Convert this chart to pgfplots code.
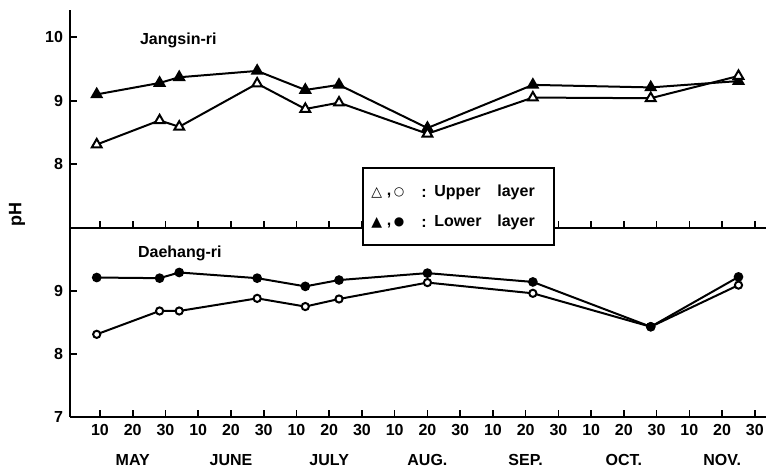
\documentclass[border=0pt]{standalone}
\usepackage{pgfplots}
\pgfplotsset{compat=1.18}
\usepackage{pgfplotstable}
\usepackage{fontspec}
\setmainfont{Liberation Sans}
\newfontfamily\symfont{DejaVu Sans}

\pgfplotstableread{
x up lo
0.90 8.31 9.10
2.82 8.69 9.28
3.42 8.59 9.37
5.80 9.27 9.47
7.27 8.87 9.17
8.30 8.97 9.25
11.00 8.48 8.57
14.22 9.05 9.25
17.82 9.04 9.21
20.50 9.39 9.31
}\jangsin

\pgfplotstableread{
x up lo
0.90 8.31 9.21
2.82 8.68 9.20
3.42 8.68 9.29
5.80 8.88 9.20
7.27 8.75 9.07
8.30 8.87 9.17
11.00 9.13 9.28
14.22 8.96 9.14
17.82 8.43 8.43
20.50 9.09 9.22
}\daehang

\pgfplotsset{
  myax/.style={
    scale only axis, width=348pt,
    xmin=0.084, xmax=21.34,
    axis lines=left,
    axis line style={-, line width=1pt, black},
    tick align=inside,
    major tick length=3.5pt,
    tick style={line width=0.8pt, black},
    /pgf/number format/assume math mode=true,
    tick label style={font=\bfseries\fontsize{8}{9}\selectfont},
    xtick={1,...,21},
    clip=false,
  },
  upl/.style={black, line width=1pt, mark options={solid, fill=white}},
  lol/.style={black, line width=1pt, mark options={solid, fill=black}},
}

\begin{document}
\begin{tikzpicture}
\useasboundingbox (0pt,0pt) rectangle (383pt,237pt);

% bottom panel: Daehang-ri
\begin{axis}[myax,
  at={(35pt,28.5pt)}, anchor=south west,
  height=94.65pt,
  ymin=7, ymax=10, ytick={7,8,9},
  xticklabel style={align=center},
  xticklabels={10,{20\\[6pt]MAY},30,10,{20\\[6pt]JUNE},30,10,{20\\[6pt]JULY},30,10,{20\\[6pt]AUG.},30,10,{20\\[6pt]SEP.},30,10,{20\\[6pt]OCT.},30,10,{20\\[6pt]NOV.},30},
]
\addplot[upl, mark=*, mark size=1.8pt] table[x=x, y=up]{\daehang};
\addplot[lol, mark=*, mark size=1.9pt] table[x=x, y=lo]{\daehang};
\end{axis}

% top panel: Jangsin-ri
\begin{axis}[myax,
  at={(35pt,123.15pt)}, anchor=south west,
  height=108.85pt,
  ymin=7, ymax=10.43, ytick={8,9,10},
  xticklabels={},
]
\addplot[lol, mark=triangle*, mark size=2.8pt] table[x=x, y=lo]{\jangsin};
\addplot[upl, mark=triangle*, mark size=2.8pt] table[x=x, y=up]{\jangsin};
\end{axis}

\begin{scope}[x=0.5pt, y=0.5pt]
\node[anchor=west, font=\bfseries\fontsize{8}{9}\selectfont] at (133,434) {Jangsin-ri};
\node[anchor=west, font=\bfseries\fontsize{8}{9}\selectfont] at (131,221) {Daehang-ri};
\node[rotate=90, font=\bfseries\fontsize{9}{10}\selectfont] at (17,259) {pH};

% legend box
\draw[line width=1pt, fill=white] (362.7,229) rectangle (554,305.7);
\begin{scope}[every node/.style={inner sep=0pt}]
\node[font=\symfont\fontsize{7}{7}\selectfont] at (376.7,281.5) {△};
\node[font=\symfont\fontsize{7}{7}\selectfont] at (376.7,251.5) {▲};
\node[font=\symfont\fontsize{6}{6}\selectfont] at (399,281.5) {○};
\node[font=\symfont\fontsize{6}{6}\selectfont] at (399,251.5) {●};
\node[font=\bfseries\fontsize{8}{9}\selectfont] at (389,278) {,};
\node[font=\bfseries\fontsize{8}{9}\selectfont] at (389,248) {,};
\node[font=\bfseries\fontsize{8}{9}\selectfont] at (424,281) {:};
\node[font=\bfseries\fontsize{8}{9}\selectfont] at (424,251) {:};
\node[anchor=base west, font=\bfseries\fontsize{8}{9}\selectfont] at (434,277) {Upper};
\node[anchor=base west, font=\bfseries\fontsize{8}{9}\selectfont] at (434,247) {Lower};
\node[anchor=base west, font=\bfseries\fontsize{8}{9}\selectfont] at (497,277) {layer};
\node[anchor=base west, font=\bfseries\fontsize{8}{9}\selectfont] at (497,247) {layer};
\end{scope}
\end{scope}
\end{tikzpicture}
\end{document}
